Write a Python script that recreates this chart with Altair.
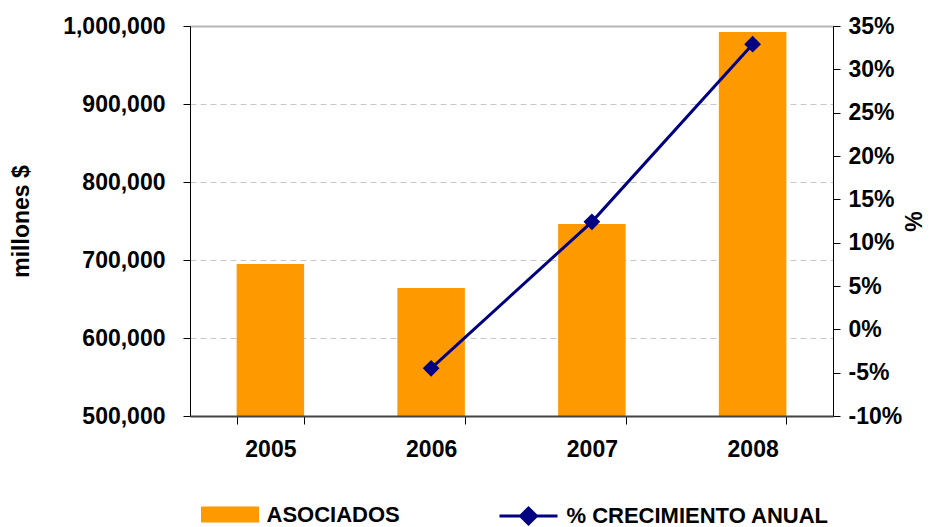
import altair as alt
import pandas as pd

years = ["2005", "2006", "2007", "2008"]
asociados = [694900, 664100, 746200, 992300]
crecimiento = [None, -4.5, 12.4, 32.9]

bar_df = pd.DataFrame({"year": years, "valor": asociados, "serie": ["ASOCIADOS"] * 4})
line_df = pd.DataFrame({"year": years, "pct": crecimiento, "serie": ["% CRECIMIENTO ANUAL"] * 4}).dropna()

FONT = "Liberation Sans"
FS = 23

xenc = alt.X(
    "year:N",
    sort=years,
    title=None,
    scale=alt.Scale(paddingInner=0.58, paddingOuter=0.29),
    axis=alt.Axis(
        labelAngle=0, labelFontSize=FS, labelFontWeight="bold", labelColor="black",
        labelFont=FONT, tickBand="extent", tickSize=8, tickColor="black",
        domainColor="#444", domainWidth=2, labelPadding=14, grid=False, zindex=1,
    ),
)

bars = alt.Chart(bar_df).mark_bar(color="#FF9900", clip=True).encode(
    x=xenc,
    y=alt.Y(
        "valor:Q",
        scale=alt.Scale(domain=[500000, 1000000], nice=False, zero=False),
        axis=alt.Axis(
            title="millones $", format=",.0f", values=[500000, 600000, 700000, 800000, 900000, 1000000],
            labelFontSize=FS, labelFontWeight="bold", labelColor="black", labelFont=FONT,
            titleFontSize=FS, titleFontWeight="bold", titleColor="black", titleFont=FONT,
            titleX=-157, titleY=195, labelPadding=18, tickSize=7, tickColor="black",
            domainColor="black", grid=True, zindex=0,
            gridColor={"condition": {"test": "datum.value == 1000000", "value": "#b4b4b4"}, "value": "#c8c8c8"},
            gridDash={"condition": {"test": "datum.value == 1000000", "value": []}, "value": [6, 4]},
            gridWidth={"condition": {"test": "datum.value == 1000000", "value": 2}, "value": 1},
        ),
    ),
    color=alt.Color(
        "serie:N",
        scale=alt.Scale(domain=["ASOCIADOS"], range=["#FF9900"]),
        legend=alt.Legend(
            title=None, orient="none", legendX=25.5, legendY=474,
            symbolType="M-2,-0.55H2V0.55H-2Z", symbolSize=841, symbolStrokeWidth=0,
            labelFontSize=22, labelFontWeight="bold", labelFont=FONT, labelColor="black",
            labelOffset=22, padding=0, labelLimit=400,
        ),
    ),
)

line = alt.Chart(line_df).mark_line(
    color="#000080", strokeWidth=3,
    point=alt.OverlayMarkDef(shape="diamond", size=280, filled=True, color="#000080"),
).encode(
    x=alt.X("year:N", sort=years),
    y=alt.Y(
        "pct:Q",
        scale=alt.Scale(domain=[-10, 35], nice=False, zero=False),
        axis=alt.Axis(
            orient="right", title="%", values=list(range(-10, 40, 5)),
            labelExpr="datum.value + '%'",
            labelFontSize=FS, labelFontWeight="bold", labelColor="black", labelFont=FONT,
            titleFontSize=FS, titleFontWeight="bold", titleColor="black", titleFont=FONT,
            titleAngle=270, titleX=93, titleY=195, labelPadding=8, tickSize=7, tickColor="black",
            domainColor="black", grid=False, zindex=1,
        ),
    ),
    color=alt.Color(
        "serie:N",
        scale=alt.Scale(domain=["% CRECIMIENTO ANUAL"], range=["#000080"]),
        legend=alt.Legend(
            title=None, orient="none", legendX=322.5, legendY=474,
            symbolType="M-2,0H2M-0.55,0L0,-0.55L0.55,0L0,0.55Z", symbolSize=841,
            symbolStrokeWidth=3, symbolFillColor="#000080", symbolStrokeColor="#000080",
            labelFontSize=22, labelFontWeight="bold", labelFont=FONT, labelColor="black",
            labelOffset=22, padding=0, labelLimit=400,
        ),
    ),
)

chart = alt.layer(bars, line).resolve_scale(y="independent", color="independent").properties(
    width=643, height=390,
    autosize=alt.AutoSizeParams(type="none"),
    padding={"left": 182, "top": 18, "right": 95, "bottom": 111},
).configure_view(strokeWidth=0).configure(background="white")

chart.save("out.html", embed_options={"renderer": "svg", "actions": False})
